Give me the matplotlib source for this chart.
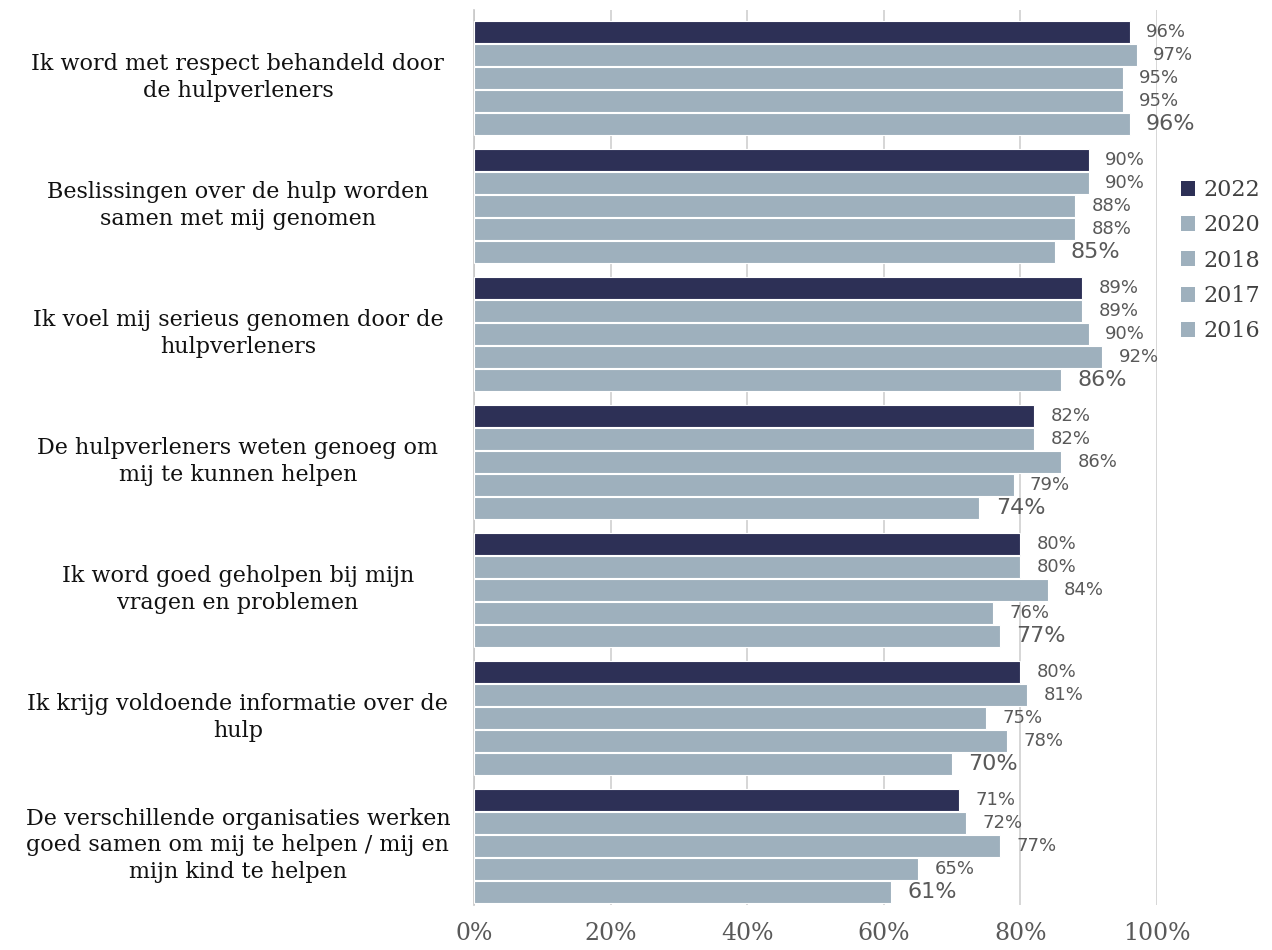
#!/usr/bin/env python3
"""Clienttevredenheid per stelling, 2016-2022 (horizontale gegroepeerde staven)."""

import numpy as np
import matplotlib.pyplot as plt
from matplotlib.patches import Patch

statements = [
    "Ik word met respect behandeld door\nde hulpverleners",
    "Beslissingen over de hulp worden\nsamen met mij genomen",
    "Ik voel mij serieus genomen door de\nhulpverleners",
    "De hulpverleners weten genoeg om\nmij te kunnen helpen",
    "Ik word goed geholpen bij mijn\nvragen en problemen",
    "Ik krijg voldoende informatie over de\nhulp",
    "De verschillende organisaties werken\ngoed samen om mij te helpen / mij en\nmijn kind te helpen",
]
years = ["2022", "2020", "2018", "2017", "2016"]

v2022 = [96, 90, 89, 82, 80, 80, 71]
v2020 = [97, 90, 89, 82, 80, 81, 72]
v2018 = [95, 88, 90, 86, 84, 75, 77]
v2017 = [95, 88, 92, 79, 76, 78, 65]
v2016 = [96, 85, 86, 74, 77, 70, 61]
series = [v2022, v2020, v2018, v2017, v2016]

dark = "#2d3056"
light = "#9eb0bd"
colors = [dark, light, light, light, light]
label_sizes = [13, 13, 13, 13, 16]

fig = plt.figure(figsize=(12.72, 9.5), dpi=100)
ax = fig.add_axes([474 / 1272, 1 - 905 / 950, (1157 - 474) / 1272, 895 / 950])

step = 23 / 128
height = 0.175
y = np.arange(len(statements))

for j, (vals, col) in enumerate(zip(series, colors)):
    pos = y + (j - 2) * step
    ax.barh(pos, np.array(vals) / 100, height=height, color=col,
            edgecolor="white", linewidth=0.8, zorder=3)
    for p, v in zip(pos, vals):
        ax.text(v / 100 + 0.024, p, f"{v}%", va="center", ha="left",
                fontsize=label_sizes[j], color="#595959",
                family="DejaVu Sans", zorder=4)

ax.set_xlim(0, 1)
ax.set_ylim(6.461, -0.531)
ax.set_xticks([0, 0.2, 0.4, 0.6, 0.8, 1.0])
ax.set_xticklabels(["0%", "20%", "40%", "60%", "80%", "100%"],
                   family="DejaVu Serif", fontsize=17, color="#595959")
ax.set_yticks(y - 0.04)
ax.set_yticklabels(statements, family="DejaVu Serif", fontsize=16,
                   color="#111111", ha="center", multialignment="center",
                   linespacing=1.25)
ax.tick_params(axis="y", length=0, pad=170)
ax.tick_params(axis="x", length=0, pad=12)

ax.grid(axis="x", color="#d0d0d0", linewidth=1.2, zorder=0)
for s in ["top", "right", "bottom"]:
    ax.spines[s].set_visible(False)
ax.spines["left"].set_color("#c8c8c8")
ax.spines["left"].set_linewidth(1.2)

handles = [Patch(facecolor=c, edgecolor="none") for c in colors]
leg = fig.legend(handles, years, loc="upper left",
                 bbox_to_anchor=(1172 / 1272, 1 - 170 / 950),
                 frameon=False, prop={"family": "DejaVu Serif", "size": 16},
                 handlelength=0.65, handleheight=0.65, handletextpad=0.35,
                 labelspacing=0.6, borderaxespad=0)
for t in leg.get_texts():
    t.set_color("#404040")

fig.savefig("out.png", dpi=100)
